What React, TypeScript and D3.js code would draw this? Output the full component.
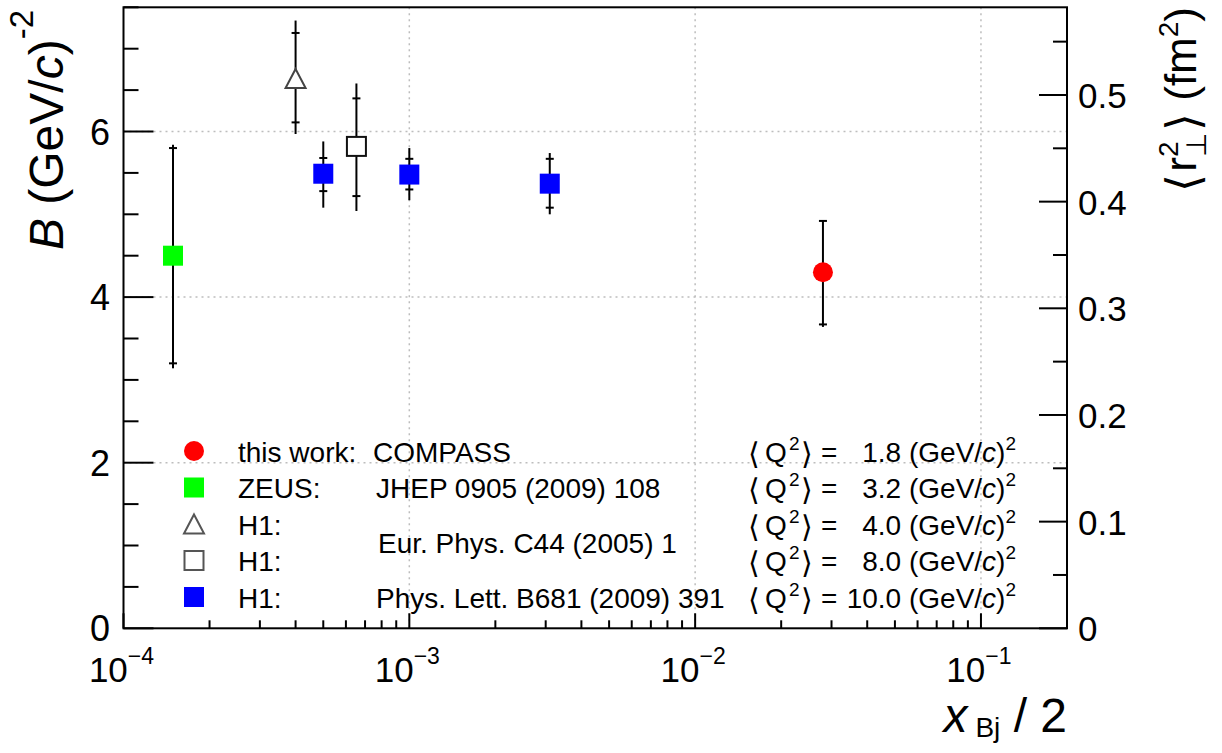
import React from "react";
import * as d3 from "d3";

// ---------- data ----------
const compassX = [0.028];
const compassB = [4.3];
const compassStatLo = [3.67];
const compassStatHi = [4.92];
const compassTotLo = [3.64];
const compassTotHi = [4.92];

const zeusX = [1.49e-4];
const zeusB = [4.5];
const zeusStatLo = [3.2];
const zeusStatHi = [5.8];
const zeusTotLo = [3.14];
const zeusTotHi = [5.84];

const h1TriX = [4.0e-4];
const h1TriB = [6.64];
const h1TriStatLo = [6.11];
const h1TriStatHi = [7.19];
const h1TriTotLo = [5.97];
const h1TriTotHi = [7.34];

const h1OpenX = [6.53e-4];
const h1OpenB = [5.82];
const h1OpenStatLo = [5.22];
const h1OpenStatHi = [6.4];
const h1OpenTotLo = [5.04];
const h1OpenTotHi = [6.58];

const h1BlueX = [5.0e-4, 1.0e-3, 3.1e-3];
const h1BlueB = [5.49, 5.48, 5.37];
const h1BlueStatLo = [5.28, 5.3, 5.08];
const h1BlueStatHi = [5.68, 5.67, 5.67];
const h1BlueTotLo = [5.08, 5.17, 5.0];
const h1BlueTotHi = [5.88, 5.8, 5.74];

const yLeftMajor = [0, 2, 4, 6];
const xMajorExp = [-4, -3, -2, -1];
const yRightMajor = [0, 0.1, 0.2, 0.3, 0.4, 0.5];

const legendNames = ["this work:", "ZEUS:", "H1:", "H1:", "H1:"];
const legendRefs = ["COMPASS", "JHEP 0905 (2009) 108", "", "", "Phys. Lett. B681 (2009) 391"];
const sharedRef = "Eur. Phys. C44 (2005) 1";
const q2Values = [1.8, 3.2, 4.0, 8.0, 10.0];

// ---------- layout ----------
const W = 1222;
const H = 753;
const L = 123.5;
const R = 1067;
const T = 7.3;
const B = 628.3;
const FONT = "'Liberation Sans', Arial, Helvetica, sans-serif";

const x = d3.scaleLog().domain([1e-4, 0.2]).range([L, R]);
const y = d3.scaleLinear().domain([0, 7.5]).range([B, T]);
const yR = d3.scaleLinear().domain([0, 0.5822]).range([B, T]);

const xMinor: number[] = [];
xMajorExp.forEach((e) => {
  for (let m = 2; m <= 9; m++) {
    const v = m * Math.pow(10, e);
    if (v <= 0.2) xMinor.push(v);
  }
});
const yLeftMinor = d3.range(0, 16).map((i) => i * 0.5).filter((v) => v <= 7.5 && v % 2 !== 0);
const yRightMinor = d3.range(0, 12).map((i) => i * 0.05).filter((v, i) => i % 2 === 1 && v <= 0.5822);

type Pt = { x: number; b: number; sl: number; sh: number; tl: number; th: number };
const mk = (xs: number[], bs: number[], sl: number[], sh: number[], tl: number[], th: number[]): Pt[] =>
  xs.map((v, i) => ({ x: v, b: bs[i], sl: sl[i], sh: sh[i], tl: tl[i], th: th[i] }));

const compass = mk(compassX, compassB, compassStatLo, compassStatHi, compassTotLo, compassTotHi);
const zeus = mk(zeusX, zeusB, zeusStatLo, zeusStatHi, zeusTotLo, zeusTotHi);
const h1Tri = mk(h1TriX, h1TriB, h1TriStatLo, h1TriStatHi, h1TriTotLo, h1TriTotHi);
const h1Open = mk(h1OpenX, h1OpenB, h1OpenStatLo, h1OpenStatHi, h1OpenTotLo, h1OpenTotHi);
const h1Blue = mk(h1BlueX, h1BlueB, h1BlueStatLo, h1BlueStatHi, h1BlueTotLo, h1BlueTotHi);

function ErrBar({ p }: { p: Pt }) {
  const cx = x(p.x);
  return (
    <g stroke="#000" strokeWidth={2}>
      <line x1={cx} x2={cx} y1={y(p.tl)} y2={y(p.th)} />
      <line x1={cx - 4} x2={cx + 4} y1={y(p.sl)} y2={y(p.sl)} />
      <line x1={cx - 4} x2={cx + 4} y1={y(p.sh)} y2={y(p.sh)} />
    </g>
  );
}

const Square = ({ cx, cy, fill }: { cx: number; cy: number; fill: string }) => (
  <rect x={cx - 10} y={cy - 10} width={20} height={20} fill={fill} />
);
const OpenSquare = ({ cx, cy, stroke }: { cx: number; cy: number; stroke: string }) => (
  <rect x={cx - 9.5} y={cy - 9.5} width={19} height={19} fill="#fff" stroke={stroke} strokeWidth={2} />
);
const Triangle = ({ cx, cy, stroke }: { cx: number; cy: number; stroke: string }) => (
  <path
    d={`M${cx},${cy - 9.5} L${cx + 10},${cy + 9.5} L${cx - 10},${cy + 9.5} Z`}
    fill="#fff"
    stroke={stroke}
    strokeWidth={2}
    strokeLinejoin="miter"
  />
);
const Circle = ({ cx, cy, fill }: { cx: number; cy: number; fill: string }) => (
  <circle cx={cx} cy={cy} r={10} fill={fill} />
);

export default function App() {
  const legTop = 451;
  const rowH = 36.5;
  const rowY = (i: number) => legTop + i * rowH;
  const gridStyle = { stroke: "#bdbdbd", strokeWidth: 1.5, strokeDasharray: "2,4" };

  return (
    <svg
      width={W}
      height={H}
      viewBox={`0 0 ${W} ${H}`}
      style={{ position: "absolute", left: 0, top: 0, background: "#fff" }}
      fontFamily={FONT}
    >
      <rect x={0} y={0} width={W} height={H} fill="#fff" />

      {/* grid */}
      {[2, 4, 6].map((v) => (
        <line key={"gy" + v} x1={L} x2={R} y1={y(v)} y2={y(v)} {...gridStyle} />
      ))}
      {[1e-3, 1e-2, 1e-1].map((v) => (
        <line key={"gx" + v} x1={x(v)} x2={x(v)} y1={T} y2={B} {...gridStyle} />
      ))}

      {/* frame */}
      <rect x={L} y={T} width={R - L} height={B - T} fill="none" stroke="#000" strokeWidth={2} />

      {/* ticks */}
      <g stroke="#000" strokeWidth={2}>
        {yLeftMajor.map((v) => (
          <line key={"ylM" + v} x1={L} x2={L + 30} y1={y(v)} y2={y(v)} />
        ))}
        {yLeftMinor.map((v) => (
          <line key={"ylm" + v} x1={L} x2={L + 15} y1={y(v)} y2={y(v)} />
        ))}
        {xMajorExp.map((e) => (
          <line key={"xM" + e} x1={x(Math.pow(10, e))} x2={x(Math.pow(10, e))} y1={B} y2={B - 15} />
        ))}
        {xMinor.map((v) => (
          <line key={"xm" + v} x1={x(v)} x2={x(v)} y1={B} y2={B - 8} />
        ))}
        {yRightMajor.map((v) => (
          <line key={"yrM" + v} x1={R} x2={R - 28} y1={yR(v)} y2={yR(v)} />
        ))}
        {yRightMinor.map((v) => (
          <line key={"yrm" + v} x1={R} x2={R - 14} y1={yR(v)} y2={yR(v)} />
        ))}
      </g>

      {/* left labels */}
      {yLeftMajor.map((v) => (
        <text key={"yl" + v} x={110} y={y(v) + 13} fontSize={36} textAnchor="end" fill="#000">
          {String(v)}
        </text>
      ))}
      {/* right labels */}
      {yRightMajor.map((v) => (
        <text key={"yr" + v} x={1078} y={yR(v) + 13} fontSize={35} textAnchor="start" fill="#000">
          {v === 0 ? "0" : v.toFixed(1)}
        </text>
      ))}
      {/* x labels */}
      {xMajorExp.map((e) => (
        <text key={"xl" + e} x={x(Math.pow(10, e)) - 2} y={681.5} fontSize={35} textAnchor="middle" fill="#000">
          10
          <tspan fontSize={23} dy={-18}>
            {"\u2212" + Math.abs(e)}
          </tspan>
        </text>
      ))}

      {/* y title left */}
      <text transform="translate(63,10) rotate(-90)" fontSize={48} textAnchor="end" fill="#000">
        <tspan fontStyle="italic">B</tspan>
        <tspan> (GeV/</tspan>
        <tspan fontStyle="italic">c</tspan>
        <tspan>)</tspan>
        <tspan fontSize={33} dy={-30}>-2</tspan>
      </text>

      {/* y title right */}
      <text transform="translate(1196,7) rotate(-90)" fontSize={44} textAnchor="end" fill="#000">
        <tspan fontSize={46} dy={3} fontWeight={300}>{"\u27E8"}</tspan>
        <tspan dx={2} dy={-3}>r</tspan>
        <tspan fontSize={28} dy={-18}>2</tspan>
        <tspan fontSize={28} dx={-15.6} dy={28}>{"\u22A5"}</tspan>
        <tspan fontSize={46} dy={-7} dx={2} fontWeight={300}>{"\u27E9"}</tspan>
        <tspan dy={-3}> (fm</tspan>
        <tspan fontSize={28} dy={-18}>2</tspan>
        <tspan dy={18}>)</tspan>
      </text>

      {/* x title */}
      <text x={1067} y={731.5} fontSize={48} textAnchor="end" fill="#000">
        <tspan fontStyle="italic">x</tspan>
        <tspan fontSize={28} dx={8} dy={5}>Bj</tspan>
        <tspan dy={-5}> / 2</tspan>
      </text>

      {/* error bars */}
      {[zeus, h1Tri, h1Open, h1Blue].flat().map((p, i) => (
        <ErrBar key={"eb" + i} p={p} />
      ))}
      {compass.map((p, i) => (
        <ErrBar key={"ce" + i} p={p} />
      ))}

      {/* markers */}
      {zeus.map((p, i) => (
        <Square key={"z" + i} cx={x(p.x)} cy={y(p.b)} fill="#00ff00" />
      ))}
      {h1Tri.map((p, i) => (
        <Triangle key={"t" + i} cx={x(p.x)} cy={y(p.b)} stroke="#444" />
      ))}
      {h1Open.map((p, i) => (
        <OpenSquare key={"o" + i} cx={x(p.x)} cy={y(p.b)} stroke="#111" />
      ))}
      {h1Blue.map((p, i) => (
        <Square key={"b" + i} cx={x(p.x)} cy={y(p.b)} fill="#0000ff" />
      ))}
      {compass.map((p, i) => (
        <Circle key={"c" + i} cx={x(p.x)} cy={y(p.b)} fill="#ff0000" />
      ))}

      {/* legend */}
      <Circle cx={194} cy={rowY(0)} fill="#ff0000" />
      <Square cx={194} cy={rowY(1)} fill="#00ff00" />
      <Triangle cx={194} cy={rowY(2)} stroke="#555" />
      <OpenSquare cx={194} cy={rowY(3)} stroke="#555" />
      <Square cx={194} cy={rowY(4)} fill="#0000ff" />

      {legendNames.map((n, i) => (
        <text key={"ln" + i} x={238} y={rowY(i) + 10.5} fontSize={28} fill="#000">
          {n}
        </text>
      ))}
      {legendRefs.map((r, i) =>
        r ? (
          <text key={"lr" + i} x={i === 0 ? 373 : 376} y={rowY(i) + 10.5} fontSize={28} fill="#000">
            {r}
          </text>
        ) : null
      )}
      <text x={378} y={(rowY(2) + rowY(3)) / 2 + 10.5} fontSize={28} fill="#000">
        {sharedRef}
      </text>

      {q2Values.map((q, i) => (
        <g key={"q" + i} fill="#000">
          <text y={rowY(i) + 10.5} fontSize={28}>
            <tspan x={748} fontSize={30} dy={2} fontWeight={300}>{"\u27E8"}</tspan>
            <tspan x={765} dy={-2}>Q</tspan>
            <tspan x={789} fontSize={19} dy={-12}>2</tspan>
            <tspan x={801} fontSize={30} dy={14} fontWeight={300}>{"\u27E9"}</tspan>
            <tspan x={821} dy={-2}>=</tspan>
          </text>
          <text x={1016} y={rowY(i) + 10.5} fontSize={28} textAnchor="end">
            {q.toFixed(1) + " (GeV/"}
            <tspan fontStyle="italic">c</tspan>
            <tspan>)</tspan>
            <tspan fontSize={19} dy={-12}>2</tspan>
          </text>
        </g>
      ))}
    </svg>
  );
}
